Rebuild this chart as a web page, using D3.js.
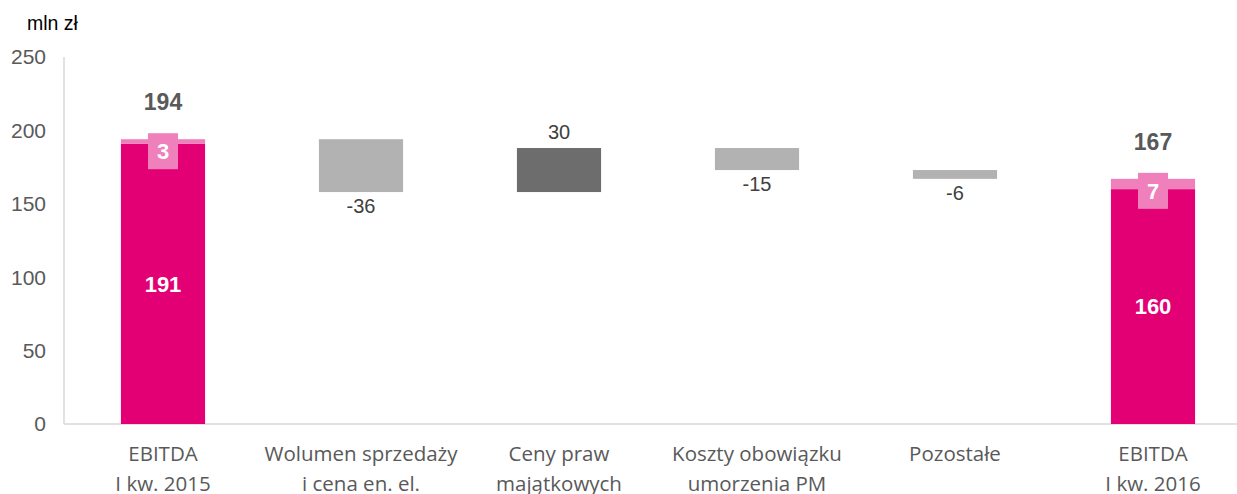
<!DOCTYPE html>
<html>
<head>
<meta charset="utf-8">
<script src="https://cdn.jsdelivr.net/npm/d3@7"></script>
<style>
  body { margin: 0; background: #fff; }
  svg { display: block; }
</style>
</head>
<body>
<div id="chart"></div>
<script>
// data
const categories = [
  ["EBITDA", "I kw. 2015"],
  ["Wolumen sprzedaży", "i cena en. el."],
  ["Ceny praw", "majątkowych"],
  ["Koszty obowiązku", "umorzenia PM"],
  ["Pozostałe", ""],
  ["EBITDA", "I kw. 2016"]
];
const mainValues = [191, null, null, null, null, 160];
const extraValues = [3, null, null, null, null, 7];
const changes = [null, -36, 30, -15, -6, null];
const yTicks = [0, 50, 100, 150, 200, 250];

const W = 1237, H = 494;
const margin = { top: 57, right: 0, bottom: 71, left: 64 };

const svg = d3.select("#chart").append("svg")
    .attr("width", W)
    .attr("height", H);

const x = d3.scaleBand()
    .domain(d3.range(categories.length))
    .range([margin.left, margin.left + 198 * 6])
    .paddingInner(0.575)
    .paddingOuter(0.2875);

const y = d3.scaleLinear()
    .domain([0, 250])
    .range([H - margin.bottom + 1, margin.top]);

// build waterfall rows
let running = 0;
const rows = categories.map((c, i) => {
  if (mainValues[i] != null) {
    const total = mainValues[i] + extraValues[i];
    running = total;
    return { i, type: "total", main: mainValues[i], extra: extraValues[i], total };
  }
  const start = running;
  running = start + changes[i];
  return { i, type: changes[i] < 0 ? "neg" : "pos", start, end: running, delta: changes[i] };
});

// axes lines
svg.append("line")
    .attr("x1", margin.left).attr("x2", margin.left)
    .attr("y1", y(250)).attr("y2", y(0))
    .attr("stroke", "#d9d9d9").attr("stroke-width", 1.5);

svg.append("line")
    .attr("x1", margin.left).attr("x2", W)
    .attr("y1", y(0)).attr("y2", y(0))
    .attr("stroke", "#d9d9d9").attr("stroke-width", 1.5);

// y tick labels
svg.append("g").selectAll("text")
    .data(yTicks)
    .join("text")
    .attr("x", 46)
    .attr("y", d => y(d))
    .attr("dy", "0.35em")
    .attr("text-anchor", "end")
    .attr("font-family", "Liberation Sans, Arial, sans-serif")
    .attr("font-size", 21)
    .attr("fill", "#595959")
    .text(d => d);

svg.append("text")
    .attr("x", 27).attr("y", 30)
    .attr("font-family", "Liberation Sans, Arial, sans-serif")
    .attr("font-size", 19.5)
    .attr("fill", "#000")
    .text("mln zł");

const bw = x.bandwidth();
const pink = "#e20074", light = "#f080bc";

rows.forEach(r => {
  const x0 = x(r.i), cx = x0 + bw / 2;
  const g = svg.append("g");
  if (r.type === "total") {
    g.append("rect")
        .attr("x", x0).attr("width", bw)
        .attr("y", y(r.main)).attr("height", y(0) - y(r.main))
        .attr("fill", pink);
    g.append("rect")
        .attr("x", x0).attr("width", bw)
        .attr("y", y(r.total)).attr("height", y(r.main) - y(r.total))
        .attr("fill", light);
    // label box for extra
    g.append("rect")
        .attr("x", cx - 15).attr("width", 30)
        .attr("y", y(r.total) - 6).attr("height", 36)
        .attr("fill", light);
    g.append("text")
        .attr("x", cx).attr("y", y(r.total) + 12)
        .attr("dy", "0.35em")
        .attr("text-anchor", "middle")
        .attr("font-family", "Liberation Sans, Arial, sans-serif")
        .attr("font-weight", "bold").attr("font-size", 22)
        .attr("fill", "#fff")
        .text(r.extra);
    g.append("text")
        .attr("x", cx).attr("y", y(r.main / 2))
        .attr("dy", "0.35em")
        .attr("text-anchor", "middle")
        .attr("font-family", "Liberation Sans, Arial, sans-serif")
        .attr("font-weight", "bold").attr("font-size", 22)
        .attr("fill", "#fff")
        .text(r.main);
    g.append("text")
        .attr("x", cx).attr("y", y(r.total) - 37)
        .attr("dy", "0.35em")
        .attr("text-anchor", "middle")
        .attr("font-family", "Liberation Sans, Arial, sans-serif")
        .attr("font-weight", "bold").attr("font-size", 23)
        .attr("fill", "#595959")
        .text(r.total);
  } else {
    const hi = Math.max(r.start, r.end), lo = Math.min(r.start, r.end);
    g.append("rect")
        .attr("x", x0).attr("width", bw)
        .attr("y", y(hi)).attr("height", y(lo) - y(hi))
        .attr("fill", r.type === "neg" ? "#b2b2b2" : "#6d6d6d");
    g.append("text")
        .attr("x", cx)
        .attr("y", r.type === "neg" ? y(lo) + 14 : y(hi) - 16)
        .attr("dy", "0.35em")
        .attr("text-anchor", "middle")
        .attr("font-family", "Liberation Sans, Arial, sans-serif")
        .attr("font-size", 20)
        .attr("fill", "#404040")
        .text(r.delta);
  }
});

// category labels
const cat = svg.append("g").selectAll("text")
    .data(categories)
    .join("text")
    .attr("x", (d, i) => x(i) + bw / 2)
    .attr("y", 461)
    .attr("text-anchor", "middle")
    .attr("font-family", "Open Sans, sans-serif")
    .attr("font-size", 20.5)
    .attr("fill", "#595959");

cat.append("tspan").text(d => d[0]);
cat.append("tspan")
    .attr("x", (d, i) => x(i) + bw / 2)
    .attr("dy", 30)
    .text(d => d[1]);
</script>
</body>
</html>
